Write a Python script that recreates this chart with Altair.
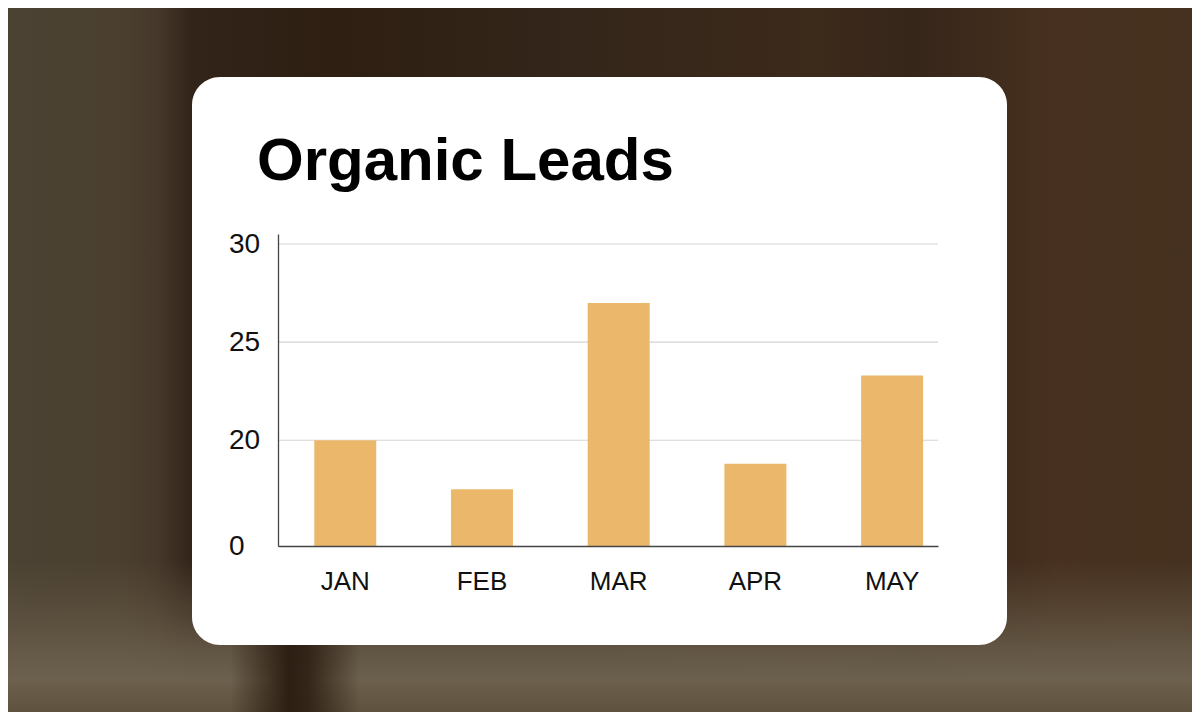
import altair as alt
import pandas as pd

# ---- data ----
months = ["JAN", "FEB", "MAR", "APR", "MAY"]
leads = [20.0, 17.5, 27.0, 18.8, 23.3]

# y axis (broken axis: bottom labelled "0")
y_domain = [14.61, 30.51]
tick_values = [14.61, 20, 25, 30]
tick_labels = ["0", "20", "25", "30"]
grid_values = [20, 25, 30]

bar_color = "#EBB86B"
title_text = "Organic Leads"

df = pd.DataFrame({"month": months, "leads": leads})
grid_df = pd.DataFrame({"leads": grid_values})

# plot area geometry (page px): x 278..938, y 234..546
W, H = 660, 312
PAD_L, PAD_T = 270, 226
OX, OY = 278, 234  # plot origin on page

label_map = "{" + ",".join(f"'{v}':'{l}'" for v, l in zip(tick_values, tick_labels)) + "}"
label_expr = f"{label_map}[datum.value + ''] || datum.label"

one = alt.Data(values=[{"k": 1}])

def px(v):
    return v - OX

def py(v):
    return v - OY

y_scale = alt.Scale(domain=y_domain, nice=False, zero=False)
y_axis = alt.Axis(
    values=tick_values, labelExpr=label_expr,
    ticks=False, tickSize=0, labelAlign="left", labelPadding=49.5,
    labelFont="Liberation Sans", labelFontSize=28, labelColor="#111111",
    domainColor="#444444", domainWidth=1.3, grid=False, zindex=1,
)

# ---- background (blurred photo approximation) ----
bg_h = alt.Chart(one).mark_rect(
    color=alt.LinearGradient(
        gradient="linear", x1=0, x2=1, y1=0, y2=0,
        stops=[
            alt.GradientStop(color="#4a4233", offset=0.0),
            alt.GradientStop(color="#4b4030", offset=0.10),
            alt.GradientStop(color="#46382a", offset=0.13),
            alt.GradientStop(color="#33241a", offset=0.16),
            alt.GradientStop(color="#2e1f12", offset=0.28),
            alt.GradientStop(color="#34261a", offset=0.48),
            alt.GradientStop(color="#3c2a1b", offset=0.68),
            alt.GradientStop(color="#36261a", offset=0.76),
            alt.GradientStop(color="#47301f", offset=0.88),
            alt.GradientStop(color="#45311f", offset=1.0),
        ],
    )
).encode(
    x=alt.value(px(0)), x2=alt.value(px(1200)),
    y=alt.value(py(0)), y2=alt.value(py(720)),
)

bg_v = alt.Chart(one).mark_rect(
    color=alt.LinearGradient(
        gradient="linear", x1=0, x2=0, y1=0, y2=1,
        stops=[
            alt.GradientStop(color="rgba(100,86,66,0)", offset=0.0),
            alt.GradientStop(color="rgba(104,92,74,0.85)", offset=0.55),
            alt.GradientStop(color="rgba(108,96,78,1)", offset=0.75),
            alt.GradientStop(color="rgba(92,78,58,1)", offset=1.0),
        ],
    )
).encode(
    x=alt.value(px(0)), x2=alt.value(px(1200)),
    y=alt.value(py(560)), y2=alt.value(py(720)),
)

bg_streak = alt.Chart(one).mark_rect(
    color=alt.LinearGradient(
        gradient="linear", x1=0, x2=1, y1=0, y2=0,
        stops=[
            alt.GradientStop(color="rgba(42,28,16,0)", offset=0.0),
            alt.GradientStop(color="rgba(42,28,16,0.95)", offset=0.45),
            alt.GradientStop(color="rgba(42,28,16,0.85)", offset=0.6),
            alt.GradientStop(color="rgba(42,28,16,0)", offset=1.0),
        ],
    )
).encode(
    x=alt.value(px(230)), x2=alt.value(px(360)),
    y=alt.value(py(645)), y2=alt.value(py(720)),
)

card = alt.Chart(one).mark_rect(color="#ffffff", cornerRadius=28).encode(
    x=alt.value(px(192)), x2=alt.value(px(1007)),
    y=alt.value(py(77)), y2=alt.value(py(645)),
)

title = alt.Chart(one).mark_text(
    text=title_text, align="left", baseline="alphabetic",
    font="Liberation Sans", fontSize=60, fontWeight="bold", color="#000000",
).encode(x=alt.value(px(257)), y=alt.value(py(180)))

grid = alt.Chart(grid_df).mark_rule(color="#d4d4d4", strokeWidth=1.2).encode(
    y=alt.Y("leads:Q", scale=y_scale, axis=y_axis, title=None),
)

bars = alt.Chart(df).mark_bar(color=bar_color, clip=True).encode(
    x=alt.X(
        "month:N", sort=months, title=None,
        scale=alt.Scale(paddingInner=0.5465, paddingOuter=0.187, align=0.709),
        axis=alt.Axis(
            labelAngle=0, ticks=False, tickSize=0, labelPadding=22,
            labelFont="Liberation Sans", labelFontSize=26, labelColor="#111111",
            domainColor="#444444", domainWidth=1.6, grid=False, zindex=1,
        ),
    ),
    y=alt.Y("leads:Q", title=None, scale=y_scale, axis=y_axis),
)

chart = alt.layer(bg_h, bg_v, bg_streak, card, title, grid, bars).properties(
    width=W, height=H,
    padding={"left": PAD_L, "top": PAD_T, "right": 1184 - PAD_L - W, "bottom": 704 - PAD_T - H},
    autosize=alt.AutoSizeParams(type="none"),
).configure(background="#3a2b1d").configure_view(stroke=None)

chart.save("out.html", embed_options={"renderer": "svg", "actions": False})
